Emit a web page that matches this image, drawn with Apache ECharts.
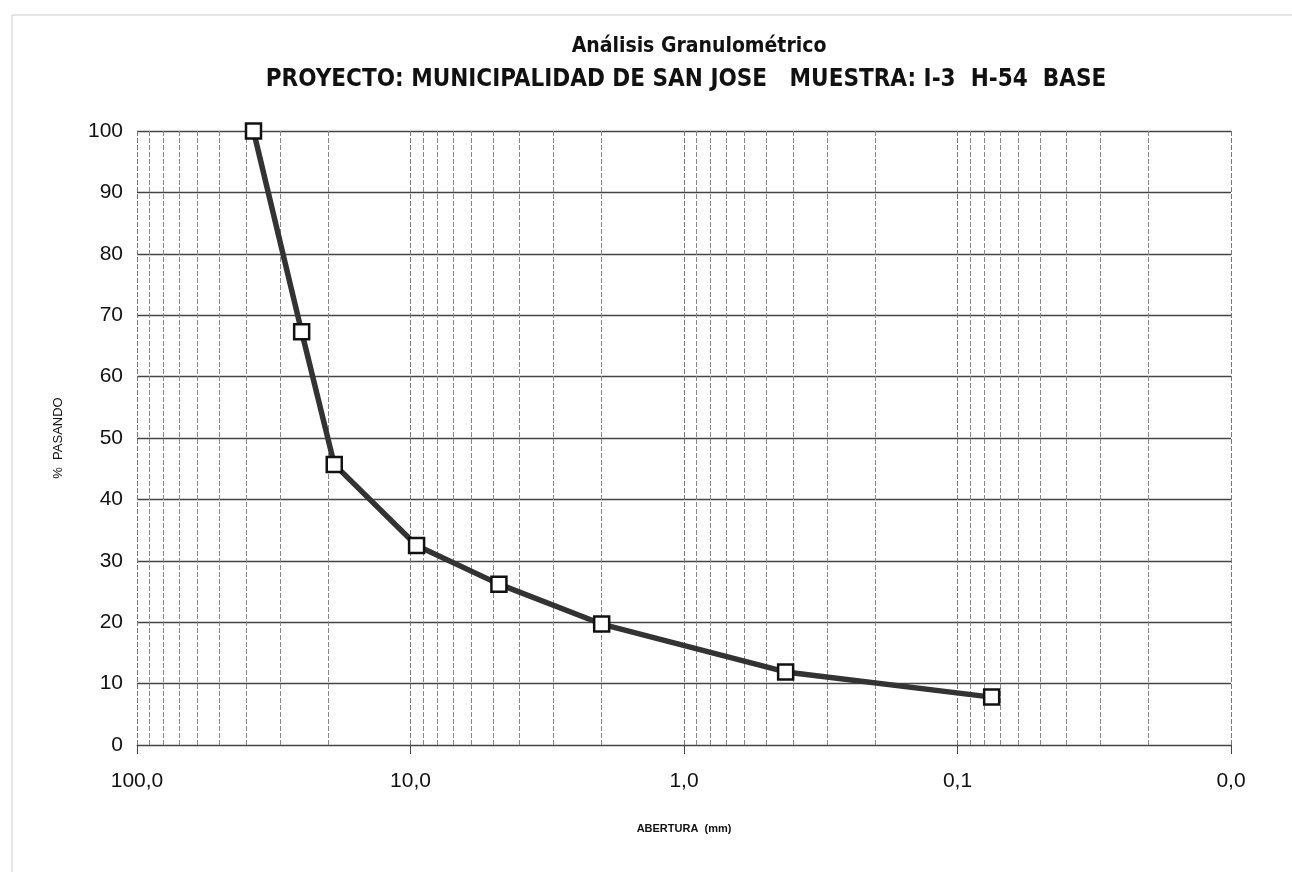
<!DOCTYPE html>
<html>
<head>
<meta charset="utf-8">
<script src="https://cdn.jsdelivr.net/npm/echarts@6/dist/echarts.min.js"></script>
<style>
  html, body { margin: 0; padding: 0; background: #fff; }
  #granulometria { width: 1292px; height: 872px; }
</style>
</head>
<body>
<div id="granulometria"></div>
<script>
  // abertura de tamiz (mm) y % pasando
  var aberturas = [37.5, 25, 19, 9.5, 4.75, 2.0, 0.425, 0.075]
  var pasando = [100, 67.3, 45.7, 32.5, 26.2, 19.7, 11.9, 7.8]
  // lineas menores de la escala logaritmica
  var lineasMenores = [90, 80, 70, 60, 50, 40, 30, 20,
    9, 8, 7, 6, 5, 4, 3, 2,
    0.9, 0.8, 0.7, 0.6, 0.5, 0.4, 0.3, 0.2,
    0.09, 0.08, 0.07, 0.06, 0.05, 0.04, 0.03, 0.02]
  var yTicks = [0, 10, 20, 30, 40, 50, 60, 70, 80, 90, 100]

  var narrow = "'Liberation Sans Narrow', 'DejaVu Sans Condensed', 'Arial Narrow', sans-serif"
  var arial = 'Arial, Liberation Sans, sans-serif'
  var chart = echarts.init(document.getElementById('granulometria'))

  chart.setOption({
    backgroundColor: '#fff',
    animation: false,
    title: [{
      text: 'Análisis Granulométrico',
      left: 694, top: 31, textAlign: 'center',
      textStyle: { fontFamily: narrow, fontSize: 21, fontWeight: 'bold', color: '#111' }
    }, {
      text: 'PROYECTO: MUNICIPALIDAD DE SAN JOSE   MUESTRA: I-3  H-54  BASE',
      left: 681, top: 63, textAlign: 'center',
      textStyle: { fontFamily: narrow, fontSize: 24, fontWeight: 'bold', color: '#111' }
    }],
    graphic: [{
      type: 'rect',
      shape: { x: 12, y: 15, width: 1300, height: 900 },
      style: { fill: 'none', stroke: '#ccc', lineWidth: 1 },
      silent: true
    }],
    grid: { left: 137, right: 61, top: 131, bottom: 127 },
    xAxis: {
      type: 'log',
      logBase: 10,
      min: 0.01,
      max: 100,
      inverse: true,
      splitNumber: 4,
      name: 'ABERTURA  (mm)',
      nameLocation: 'middle',
      nameGap: 78,
      nameTextStyle: { fontFamily: arial, fontSize: 11, fontWeight: 'bold', color: '#111' },
      axisLine: { show: true, lineStyle: { color: '#444', width: 1 } },
      axisTick: { show: true, length: 9, lineStyle: { color: '#444' } },
      axisLabel: {
        margin: 26,
        fontFamily: arial,
        fontSize: 21,
        color: '#111',
        formatter: function (v) { return v.toFixed(1).replace('.', ',') }
      },
      splitLine: { show: true, lineStyle: { color: '#777', width: 1, type: [5, 2] } }
    },
    yAxis: {
      type: 'value',
      min: yTicks[0],
      max: yTicks[yTicks.length - 1],
      interval: 10,
      name: '%  PASANDO',
      nameLocation: 'middle',
      nameGap: 72,
      nameRotate: 90,
      nameTextStyle: { fontFamily: arial, fontSize: 13, color: '#111' },
      axisLine: { show: false },
      axisTick: { show: false },
      axisLabel: { margin: 14, fontFamily: arial, fontSize: 21, color: '#111' },
      splitLine: { show: true, lineStyle: { color: '#444', width: 1.3 } }
    },
    series: [{
      type: 'line',
      data: aberturas.map(function (a, i) { return [a, pasando[i]] }),
      lineStyle: { color: '#333', width: 5.5 },
      itemStyle: { color: '#fff', borderColor: '#111', borderWidth: 2.5 },
      symbol: 'rect',
      symbolSize: 15,
      z: 5,
      markLine: {
        silent: true,
        symbol: ['none', 'none'],
        label: { show: false },
        lineStyle: { color: '#888', width: 1, type: [5, 2] },
        data: lineasMenores.map(function (v) { return { xAxis: v } })
      }
    }]
  })
</script>
</body>
</html>
